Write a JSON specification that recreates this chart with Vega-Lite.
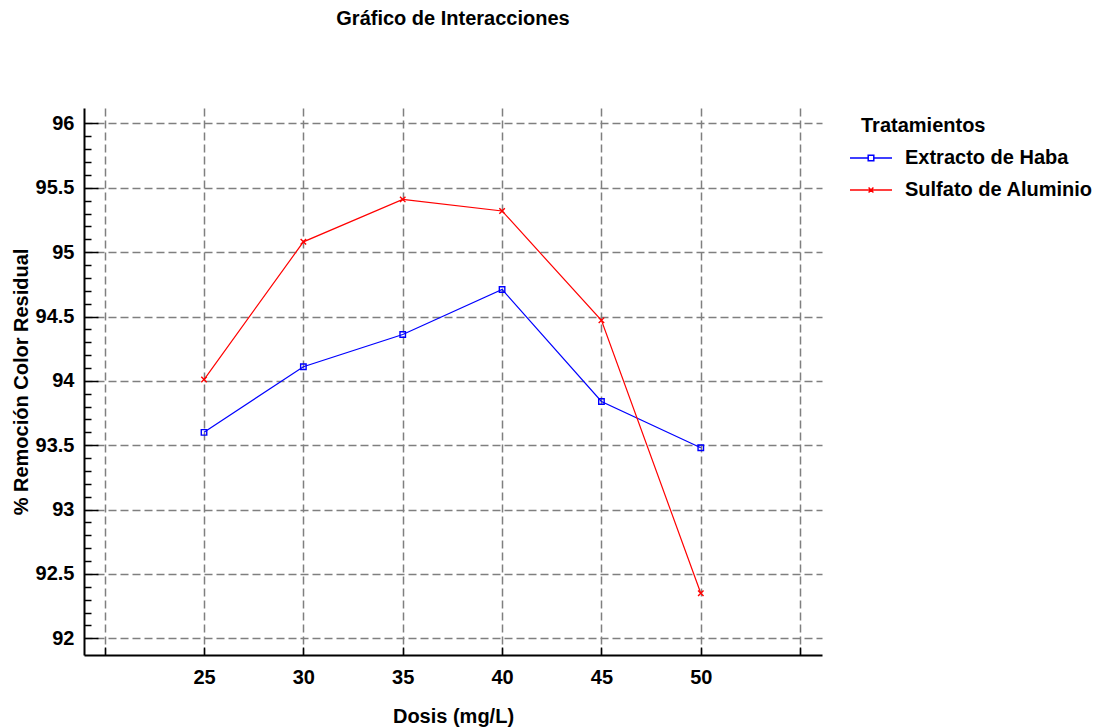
{
  "$schema": "https://vega.github.io/schema/vega-lite/v6.json",
  "autosize": "none",
  "width": 738,
  "height": 547,
  "padding": {"left": 84, "top": 108, "right": 280, "bottom": 72},
  "background": "white",
  "title": {
    "text": "Gráfico de Interacciones",
    "anchor": "middle",
    "frame": "group",
    "font": "Liberation Sans",
    "fontSize": 20,
    "fontWeight": "bold",
    "color": "#000000",
    "offset": 79
  },
  "config": {
    "view": {"stroke": null},
    "font": "Liberation Sans"
  },
  "data": {
    "values": [
      {"Tratamiento": "Extracto de Haba", "Dosis": 25, "Valor": 93.6},
      {"Tratamiento": "Extracto de Haba", "Dosis": 30, "Valor": 94.11},
      {"Tratamiento": "Extracto de Haba", "Dosis": 35, "Valor": 94.36},
      {"Tratamiento": "Extracto de Haba", "Dosis": 40, "Valor": 94.71},
      {"Tratamiento": "Extracto de Haba", "Dosis": 45, "Valor": 93.84},
      {"Tratamiento": "Extracto de Haba", "Dosis": 50, "Valor": 93.48},
      {"Tratamiento": "Sulfato de Aluminio", "Dosis": 25, "Valor": 94.01},
      {"Tratamiento": "Sulfato de Aluminio", "Dosis": 30, "Valor": 95.08},
      {"Tratamiento": "Sulfato de Aluminio", "Dosis": 35, "Valor": 95.41},
      {"Tratamiento": "Sulfato de Aluminio", "Dosis": 40, "Valor": 95.32},
      {"Tratamiento": "Sulfato de Aluminio", "Dosis": 45, "Valor": 94.47},
      {"Tratamiento": "Sulfato de Aluminio", "Dosis": 50, "Valor": 92.35}
    ]
  },
  "layer": [
    {
      "mark": {"type": "point", "filled": false, "size": 30, "strokeWidth": 1.5, "opacity": 0},
      "encoding": {
        "x": {"field": "Dosis", "type": "quantitative"},
        "y": {"field": "Valor", "type": "quantitative", "axis": null},
        "color": {
          "field": "Tratamiento",
          "type": "nominal",
          "scale": {"domain": ["Extracto de Haba", "Sulfato de Aluminio"], "range": ["#0000ff", "#ff0000"]},
          "legend": {
            "title": "Tratamientos",
            "orient": "none",
            "legendX": 777,
            "legendY": 8,
            "padding": 0,
            "titleFont": "Liberation Sans",
            "titleFontSize": 20,
            "titleFontWeight": "bold",
            "titleColor": "#000000",
            "titlePadding": 12,
            "labelFont": "Liberation Sans",
            "labelFontSize": 20,
            "labelFontWeight": "bold",
            "labelColor": "#000000",
            "labelLimit": 400,
            "labelOffset": 24,
            "rowPadding": 12,
            "symbolSize": 196,
            "symbolStrokeWidth": 1.5,
            "symbolOpacity": 1,
            "symbolFillColor": "transparent"
          }
        },
        "shape": {
          "field": "Tratamiento",
          "type": "nominal",
          "scale": {"domain": ["Extracto de Haba", "Sulfato de Aluminio"], "range": ["M-3,0H-0.4M0.4,0H3M-0.4,-0.4H0.4V0.4H-0.4Z", "M-3,0H3M-0.35,-0.35L0.35,0.35M-0.35,0.35L0.35,-0.35"]},
          "legend": null
        }
      }
    },
    {
      "mark": {"type": "line", "strokeWidth": 1.2},
      "encoding": {
        "x": {
          "field": "Dosis",
          "type": "quantitative",
          "scale": {"domain": [18.96, 56.1], "nice": false, "zero": false},
          "axis": {
            "values": [20, 25, 30, 35, 40, 45, 50, 55],
            "labelExpr": "datum.value == 20 || datum.value == 55 ? '' : datum.label",
            "title": "Dosis (mg/L)",
            "grid": true,
            "gridColor": "#7f7f7f",
            "gridDash": [8, 4],
            "gridWidth": 1.5,
            "gridOpacity": 1,
            "domainColor": "#000000",
            "domainWidth": 2,
            "tickColor": "#000000",
            "tickWidth": 1.5,
            "tickSize": -8,
            "labelPadding": 20,
            "labelFont": "Liberation Sans",
            "labelFontSize": 20,
            "labelFontWeight": "bold",
            "labelColor": "#000000",
            "titleFont": "Liberation Sans",
            "titleFontSize": 20,
            "titleFontWeight": "bold",
            "titleColor": "#000000",
            "titlePadding": 19
          }
        },
        "y": {
          "field": "Valor",
          "type": "quantitative",
          "scale": {"domain": [91.87, 96.12], "nice": false, "zero": false},
          "axis": {
            "orient": "left",
            "values": [92, 92.5, 93, 93.5, 94, 94.5, 95, 95.5, 96],
            "labelExpr": "'' + datum.value",
            "title": "% Remoción Color Residual",
            "grid": true,
            "gridColor": "#7f7f7f",
            "gridDash": [8, 4],
            "gridWidth": 1.5,
            "gridOpacity": 1,
            "domainColor": "#000000",
            "domainWidth": 2,
            "tickColor": "#000000",
            "tickWidth": 1.5,
            "tickSize": -14,
            "labelPadding": 24,
            "labelFont": "Liberation Sans",
            "labelFontSize": 20,
            "labelFontWeight": "bold",
            "labelColor": "#000000",
            "titleFont": "Liberation Sans",
            "titleFontSize": 20,
            "titleFontWeight": "bold",
            "titleColor": "#000000",
            "titlePadding": 4
          }
        },
        "color": {"field": "Tratamiento", "type": "nominal", "legend": null}
      }
    },
    {
      "transform": [{"filter": "datum.Tratamiento == 'Extracto de Haba'"}],
      "mark": {"type": "point", "filled": false, "shape": "square", "size": 30, "strokeWidth": 1.4, "opacity": 1},
      "encoding": {
        "x": {"field": "Dosis", "type": "quantitative"},
        "y": {"field": "Valor", "type": "quantitative", "axis": null},
        "color": {"field": "Tratamiento", "type": "nominal", "legend": null}
      }
    },
    {
      "transform": [{"filter": "datum.Tratamiento == 'Sulfato de Aluminio'"}],
      "mark": {"type": "point", "filled": false, "shape": "M-1,-1L1,1M-1,1L1,-1", "size": 30, "strokeWidth": 1.4, "opacity": 1},
      "encoding": {
        "x": {"field": "Dosis", "type": "quantitative"},
        "y": {"field": "Valor", "type": "quantitative", "axis": null},
        "color": {"field": "Tratamiento", "type": "nominal", "legend": null}
      }
    },
    {
      "mark": {"type": "point", "opacity": 0},
      "encoding": {
        "y": {
          "field": "Valor",
          "type": "quantitative",
          "axis": {
            "orient": "left",
            "values": [92.1, 92.2, 92.3, 92.4, 92.6, 92.7, 92.8, 92.9, 93.1, 93.2, 93.3, 93.4, 93.6, 93.7, 93.8, 93.9, 94.1, 94.2, 94.3, 94.4, 94.6, 94.7, 94.8, 94.9, 95.1, 95.2, 95.3, 95.4, 95.6, 95.7, 95.8, 95.9],
            "labels": false,
            "domain": false,
            "grid": false,
            "ticks": true,
            "tickSize": -7,
            "tickColor": "#000000",
            "tickWidth": 1.5,
            "title": null
          }
        }
      }
    }
  ],
  "resolve": {"axis": {"y": "independent"}}
}
